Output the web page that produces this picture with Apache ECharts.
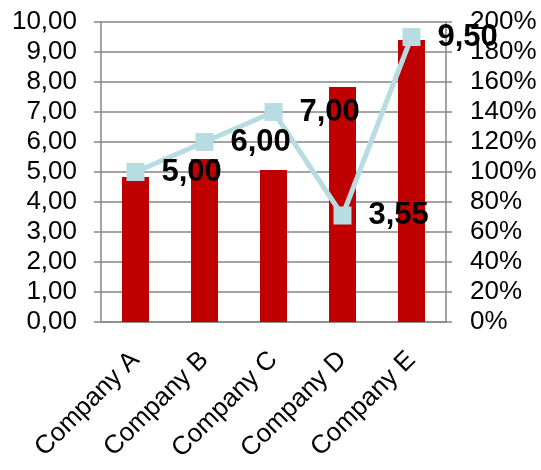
<!DOCTYPE html>
<html>
<head>
<meta charset="utf-8">
<script src="https://cdn.jsdelivr.net/npm/echarts@6/dist/echarts.min.js"></script>
<style>
  html, body { margin: 0; padding: 0; background: #fff; }
  #chart { width: 541px; height: 470px; }
</style>
</head>
<body>
<div id="chart"></div>
<script>
const categories = ['Company A', 'Company B', 'Company C', 'Company D', 'Company E'];
const barValues = [4.83, 5.43, 5.07, 7.83, 9.40];
const lineValues = [5.00, 6.00, 7.00, 3.55, 9.50];

const comma2 = v => Number(v).toFixed(2).replace('.', ',');
const gray = '#868686';
const font = 'Liberation Sans, Arial, sans-serif';

const chart = echarts.init(document.getElementById('chart'));
chart.setOption({
    animation: false,
    backgroundColor: '#fff',
    grid: { left: 101, right: 95, top: 22, bottom: 148 },
    xAxis: {
        type: 'category',
        data: categories,
        axisLine: { lineStyle: { color: gray, width: 1.5 } },
        axisTick: { length: 6, lineStyle: { color: gray, width: 1.5 } },
        axisLabel: {
            rotate: 45, margin: 34, color: '#000',
            fontSize: 26, fontFamily: font
        }
    },
    yAxis: [{
        type: 'value', min: 0, max: 10, interval: 1,
        axisLine: { show: true, lineStyle: { color: gray, width: 1.5 } },
        axisTick: { show: true, length: 7, lineStyle: { color: gray, width: 1.5 } },
        splitLine: { lineStyle: { color: gray, width: 1.5 } },
        axisLabel: {
            margin: 24, color: '#000', fontSize: 26, fontFamily: font,
            formatter: comma2
        }
    }, {
        type: 'value', min: 0, max: 200, interval: 20,
        axisLine: { show: true, lineStyle: { color: gray, width: 1.5 } },
        axisTick: { show: true, length: 6, lineStyle: { color: gray, width: 1.5 } },
        splitLine: { show: false },
        axisLabel: {
            margin: 24, color: '#000', fontSize: 26, fontFamily: font,
            formatter: '{value}%'
        }
    }],
    series: [{
        type: 'bar',
        data: barValues,
        barWidth: 27,
        itemStyle: { color: '#c00000' }
    }, {
        type: 'line',
        data: lineValues,
        symbol: 'rect',
        symbolSize: 18,
        lineStyle: { color: '#b7dde2', width: 5 },
        itemStyle: { color: '#b7dde2' },
        label: {
            show: true, position: 'right', distance: 17,
            color: '#000', fontSize: 31, fontWeight: 'bold', fontFamily: font,
            formatter: p => comma2(p.value)
        },
        z: 5
    }]
});
</script>
</body>
</html>
